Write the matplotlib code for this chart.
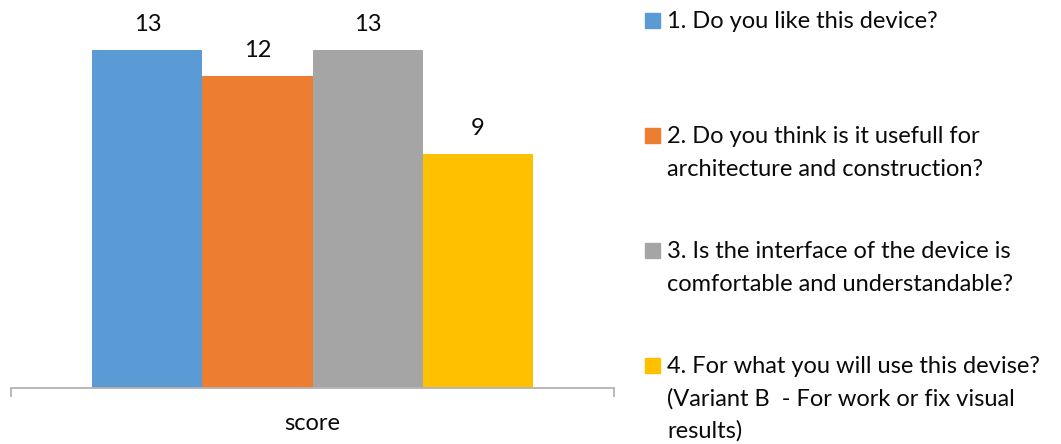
import matplotlib
matplotlib.use("Agg")
import matplotlib.pyplot as plt
from matplotlib.patches import Rectangle

plt.rcParams["font.family"] = ["Lato", "DejaVu Sans"]

# survey answers, one bar per question
questions = [
    ["1. Do you like this device?"],
    ["2. Do you think is it usefull for", "architecture and construction?"],
    ["3. Is the interface of the device is", "comfortable and understandable?"],
    ["4. For what you will use this devise?", "(Variant B  - For work or fix visual", "results)"],
]
scores = [13, 12, 13, 9]
colors = ["#5B9BD5", "#ED7D31", "#A5A5A5", "#FFC000"]
category = "score"

W, H = 1061, 444
FS = 17
TXT = "#0a0a0a"
fig = plt.figure(figsize=(W / 100, H / 100), dpi=100)

# plot area in pixels: x 11..614, baseline at y=388
ax = fig.add_axes([11 / W, (H - 388) / H, 603 / W, (388 - 24) / H])

xpos = [i - 1.5 for i in range(len(scores))]
bars = ax.bar(xpos, scores, width=1.0, color=colors)
ax.set_xlim(-2.74, 2.74)
ax.set_ylim(0, 14)

for x, v in zip(xpos, scores):
    ax.annotate(str(v), (x, v), xytext=(0, 13.5), textcoords="offset points",
                ha="center", va="baseline", fontsize=FS, color=TXT)

for side in ["top", "right", "left"]:
    ax.spines[side].set_visible(False)
ax.spines["bottom"].set_color("#b3b3b3")
ax.spines["bottom"].set_linewidth(1.3)
ax.set_yticks([])
ax.set_xticks([-2.74, 2.74])
ax.set_xticklabels(["", ""])
ax.tick_params(axis="x", which="major", length=6.5, width=1.3, color="#b3b3b3")
ax.set_xticks([0], minor=True)
ax.set_xticklabels([category], minor=True, fontsize=FS, color=TXT)
ax.tick_params(axis="x", which="minor", length=0, pad=18)

# legend on the right, entries spaced evenly
first_base = 28.5
item_step = 114.8
line_step = 32.5
for i, (lines, c) in enumerate(zip(questions, colors)):
    base = first_base + i * item_step
    fig.patches.append(Rectangle((645 / W, (H - base) / H), 15 / W, 15 / H,
                                 transform=fig.transFigure, color=c))
    for j, line in enumerate(lines):
        y = base + j * line_step
        fig.text(667 / W, (H - y) / H, line, ha="left", va="baseline",
                 fontsize=FS, color=TXT)

fig.savefig("out.png", dpi=100)
